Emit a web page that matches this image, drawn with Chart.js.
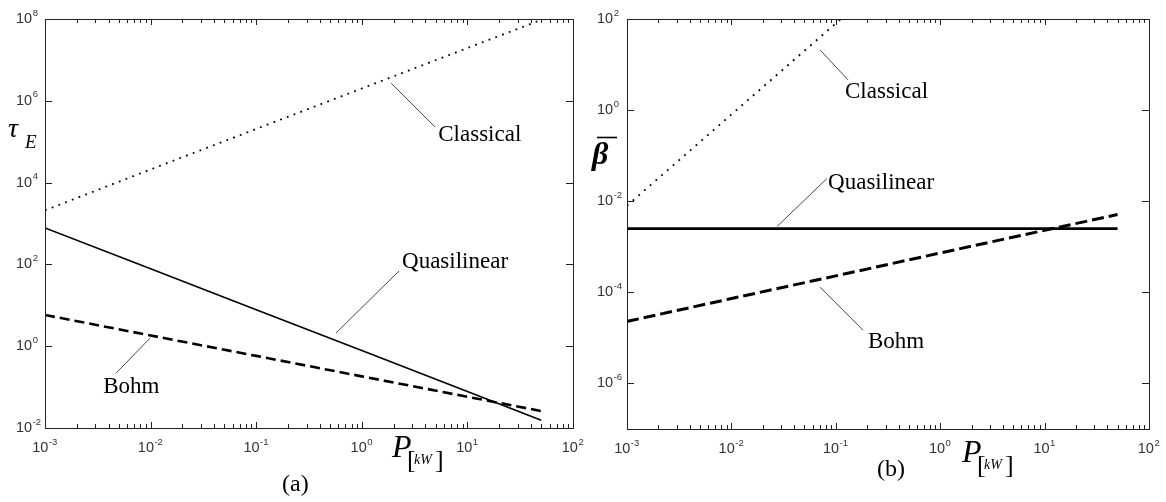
<!DOCTYPE html>
<html>
<head>
<meta charset="utf-8">
<script src="https://cdn.jsdelivr.net/npm/chart.js@4.4.1/dist/chart.umd.min.js"></script>
<style>
  html, body { margin: 0; padding: 0; background: #fff; }
  #wrap { position: relative; width: 1166px; height: 502px; overflow: hidden; }
  canvas { position: absolute; top: 0; }
</style>
</head>
<body>
<div id="wrap">
  <canvas id="chart-a" width="600" height="502" style="left:0;width:600px;height:502px"></canvas>
  <canvas id="chart-b" width="586" height="502" style="left:580px;width:586px;height:502px"></canvas>
</div>
<script>
// ---- data ----
const powerKW = [0.001, 0.01, 0.1, 1, 10, 50];

// (a) energy confinement time
const tauClassical   = [2.1e3, 2.1e4, 2.05e5, 2.0e6, 1.95e7, 9.5e7];
const tauQuasilinear = [780, 78, 7.8, 0.78, 0.078, 0.0155];
const tauBohm        = [5.8, 1.83, 0.58, 0.183, 0.058, 0.026];

// (b) average beta
const betaClassical   = [0.008, 0.8, 80, 8000, 8e5, 2e7];
const betaQuasilinear = [0.0025, 0.0025, 0.0025, 0.0025, 0.0025, 0.0025];
const betaBohm        = [2.3e-5, 7.3e-5, 2.3e-4, 7.3e-4, 2.3e-3, 5.1e-3];

// axis decades
const xTickExponents = [-3, -2, -1, 0, 1, 2];
const tauTickExponents = [-2, 0, 2, 4, 6, 8];
const betaTickExponents = [-6, -4, -2, 0, 2];

const SERIF = '"Liberation Serif", "Times New Roman", serif';
const SANS = '"Liberation Sans", Arial, sans-serif';

function pts(xs, ys) {
  return xs.map((v, i) => ({ x: v, y: ys[i] }));
}

function drawPow(ctx, exp, x, y, align) {
  ctx.font = '14.5px ' + SANS;
  const bw = ctx.measureText('10').width;
  ctx.font = '9.5px ' + SANS;
  const ew = ctx.measureText(String(exp)).width;
  const x0 = align === 'center' ? x - (bw + ew + 1) / 2 : x;
  ctx.textAlign = 'left';
  ctx.textBaseline = 'middle';
  ctx.fillStyle = '#333';
  ctx.font = '14.5px ' + SANS;
  ctx.fillText('10', x0, y);
  ctx.font = '9.5px ' + SANS;
  ctx.fillText(String(exp), x0 + bw + 0.5, y - 6);
}

function drawPLabel(ctx, x, base) {
  ctx.fillStyle = '#000';
  ctx.textAlign = 'left';
  ctx.textBaseline = 'alphabetic';
  ctx.font = 'italic 32px ' + SERIF;
  ctx.fillText('P', x, base);
  let cx = x + 15;
  ctx.font = '26px ' + SERIF;
  ctx.fillText('[', cx, base + 11);
  cx += 7;
  ctx.font = 'italic 14px ' + SERIF;
  ctx.fillText('kW', cx, base + 7);
  cx += ctx.measureText('kW').width + 3;
  ctx.font = '26px ' + SERIF;
  ctx.fillText(']', cx, base + 11);
}

// frame, inward ticks, power-of-ten labels, leader notes, titles
const frameAxes = {
  id: 'frameAxes',
  afterDatasetsDraw(chart, args, opts) {
    const { ctx, chartArea: a, scales: { x, y } } = chart;
    ctx.save();
    ctx.strokeStyle = '#222';
    ctx.lineWidth = 1;
    ctx.strokeRect(a.left + 0.5, a.top + 0.5, a.right - a.left, a.bottom - a.top);

    ctx.beginPath();
    xTickExponents.forEach((e, i) => {
      for (let m = 1; m <= 9; m++) {
        if (i === xTickExponents.length - 1 && m > 1) break;
        const px = Math.round(x.getPixelForValue(m * Math.pow(10, e))) + 0.5;
        const len = m === 1 ? 6 : 4;
        ctx.moveTo(px, a.bottom); ctx.lineTo(px, a.bottom - len);
        ctx.moveTo(px, a.top); ctx.lineTo(px, a.top + len);
      }
    });
    opts.yExp.forEach(e => {
      const py = Math.round(y.getPixelForValue(Math.pow(10, e))) + 0.5;
      ctx.moveTo(a.left, py); ctx.lineTo(a.left + 7, py);
      ctx.moveTo(a.right, py); ctx.lineTo(a.right - 7, py);
    });
    ctx.stroke();

    xTickExponents.forEach(e => {
      drawPow(ctx, e, x.getPixelForValue(Math.pow(10, e)), a.bottom + 20, 'center');
    });
    opts.yExp.forEach(e => {
      drawPow(ctx, e, a.left - opts.yLabelGap, y.getPixelForValue(Math.pow(10, e)), 'left');
    });

    // curve annotations
    opts.notes.forEach(n => {
      const px = x.getPixelForValue(n.x);
      const py = y.getPixelForValue(n.y);
      ctx.strokeStyle = '#333';
      ctx.lineWidth = 0.9;
      ctx.beginPath();
      ctx.moveTo(px, py);
      ctx.lineTo(px + n.lx, py + n.ly);
      ctx.stroke();
      ctx.fillStyle = '#000';
      ctx.font = '23px ' + SERIF;
      ctx.textAlign = 'left';
      ctx.textBaseline = 'middle';
      ctx.fillText(n.text, px + n.tx, py + n.ty);
    });

    drawPLabel(ctx, a.left + opts.pOffset, opts.pBase);

    ctx.fillStyle = '#000';
    ctx.font = '24px ' + SERIF;
    ctx.textAlign = 'left';
    ctx.textBaseline = 'middle';
    ctx.fillText(opts.panel, opts.panelX, opts.panelY);

    if (opts.yTitle === 'tau') {
      ctx.textBaseline = 'alphabetic';
      ctx.font = 'italic 28px ' + SERIF;
      ctx.fillText('\u03C4', 8, 137);
      ctx.font = 'italic 19px ' + SERIF;
      ctx.fillText('E', 25, 148);
    } else {
      ctx.textBaseline = 'alphabetic';
      ctx.font = 'italic bold 32px ' + SERIF;
      ctx.fillText('\u03B2', 12, 164);
      ctx.lineWidth = 1.6;
      ctx.strokeStyle = '#000';
      ctx.beginPath();
      ctx.moveTo(17, 137.5);
      ctx.lineTo(37, 137.5);
      ctx.stroke();
    }
    ctx.restore();
  }
};

function makeChart(id, series, yMin, yMax, padding, axisOpts) {
  return new Chart(document.getElementById(id), {
    type: 'line',
    data: {
      datasets: series.map(s => ({
        label: s.label,
        data: pts(powerKW, s.values),
        borderColor: '#000',
        borderWidth: s.width,
        borderDash: s.dash,
        borderCapStyle: 'butt',
        pointRadius: 0,
        tension: 0,
        fill: false
      }))
    },
    options: {
      responsive: false,
      animation: false,
      devicePixelRatio: 1,
      layout: { padding: padding },
      plugins: {
        legend: { display: false },
        tooltip: { enabled: false },
        frameAxes: axisOpts
      },
      scales: {
        x: { type: 'logarithmic', min: 1e-3, max: 1e2, display: false },
        y: { type: 'logarithmic', min: yMin, max: yMax, display: false }
      }
    },
    plugins: [frameAxes]
  });
}

makeChart('chart-a', [
  { label: 'Classical', values: tauClassical, width: 1.8, dash: [1.8, 5.4] },
  { label: 'Quasilinear', values: tauQuasilinear, width: 1.6, dash: [] },
  { label: 'Bohm', values: tauBohm, width: 2.6, dash: [10, 5] }
], 1e-2, 1e8, { left: 45, top: 19, right: 27, bottom: 74 }, {
  yExp: tauTickExponents,
  yLabelGap: 29,
  pOffset: 347,
  pBase: 457,
  panel: '(a)',
  panelX: 282,
  panelY: 485,
  yTitle: 'tau',
  notes: [
    { text: 'Classical', x: 1.9, y: 2.7e6, lx: 44, ly: 44, tx: 47, ty: 52 },
    { text: 'Quasilinear', x: 0.57, y: 2.1, lx: 63, ly: -62, tx: 66, ty: -71 },
    { text: 'Bohm', x: 0.0099, y: 1.58, lx: -34, ly: 35, tx: -47, ty: 49 }
  ]
});

makeChart('chart-b', [
  { label: 'Classical', values: betaClassical, width: 1.8, dash: [1.8, 5.8] },
  { label: 'Quasilinear', values: betaQuasilinear, width: 2.6, dash: [] },
  { label: 'Bohm', values: betaBohm, width: 3, dash: [12, 5] }
], 1e-7, 1e2, { left: 47, top: 19, right: 17, bottom: 73 }, {
  yExp: betaTickExponents,
  yLabelGap: 30,
  pOffset: 335,
  pBase: 462,
  panel: '(b)',
  panelX: 297,
  panelY: 470,
  yTitle: 'beta',
  notes: [
    { text: 'Classical', x: 0.0706, y: 21, lx: 28, ly: 30, tx: 25, ty: 42 },
    { text: 'Quasilinear', x: 0.0274, y: 0.0028, lx: 50, ly: -48, tx: 51, ty: -43 },
    { text: 'Bohm', x: 0.0706, y: 1.3e-4, lx: 43, ly: 43, tx: 48, ty: 55 }
  ]
});
</script>
</body>
</html>
